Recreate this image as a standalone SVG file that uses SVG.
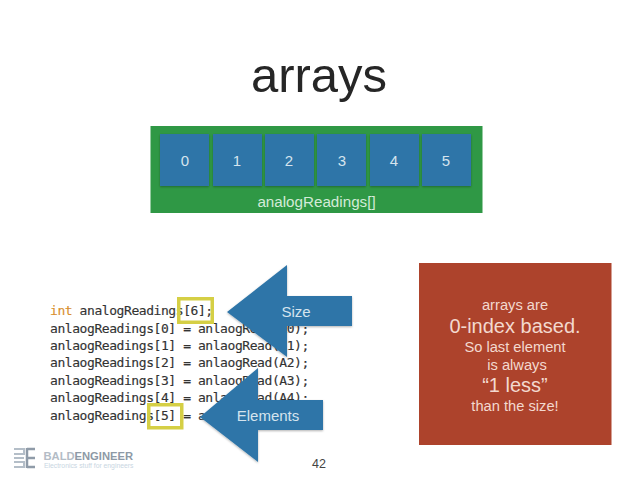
<svg xmlns="http://www.w3.org/2000/svg" width="638" height="479" viewBox="0 0 638 479">
<defs>
<filter id="sh" x="-10%" y="-10%" width="120%" height="125%"><feDropShadow dx="0" dy="1" stdDeviation="0.8" flood-color="#000" flood-opacity="0.3"/></filter>
</defs>
<style>
text{font-family:"Liberation Sans",Arial,sans-serif}
.t{fill:#d5e4ee;font-size:15px;text-anchor:middle}
.cell{fill:#2e75a8;filter:url(#sh)}
.code{font-family:"DejaVu Sans Mono","Liberation Mono",monospace;font-size:13px;letter-spacing:-0.43px;fill:#333;stroke:#333;stroke-width:0.15px}
.hl{fill:none;stroke:#d5cf45;stroke-width:3.5}
.arrow{fill:#2e75a8;filter:url(#sh)}
.note{fill:#f3d9cf;text-anchor:middle}
</style>
<rect width="638" height="479" fill="#fff"/>
<text id="title" x="319" y="92" font-size="49" fill="#262626" text-anchor="middle">arrays</text>
<g id="array">
<rect x="150.500" y="126" width="332" height="87" fill="#2f9845"/>
<text x="316.500" y="207" text-anchor="middle" font-size="15.200" fill="#d3ebd8">analogReadings[]</text>
</g>
<g id="cell0"><rect class="cell" x="160" y="134" width="49" height="52"/><text class="t" x="185" y="166">0</text></g>
<g id="cell1"><rect class="cell" x="213" y="134" width="49" height="52"/><text class="t" x="237" y="166">1</text></g>
<g id="cell2"><rect class="cell" x="265" y="134" width="49" height="52"/><text class="t" x="289" y="166">2</text></g>
<g id="cell3"><rect class="cell" x="317" y="134" width="49" height="52"/><text class="t" x="342" y="166">3</text></g>
<g id="cell4"><rect class="cell" x="370" y="134" width="49" height="52"/><text class="t" x="394" y="166">4</text></g>
<g id="cell5"><rect class="cell" x="422" y="134" width="49" height="52"/><text class="t" x="446" y="166">5</text></g>
<g id="code">
<text class="code" x="50" y="315"><tspan fill="#d9902f" stroke="#d9902f">int</tspan> analogReadings[6];</text>
<text class="code" x="50" y="332.500">anlaogReadings[0] = anlaogRead(A0);</text>
<text class="code" x="50" y="350">anlaogReadings[1] = anlaogRead(A1);</text>
<text class="code" x="50" y="367">anlaogReadings[2] = anlaogRead(A2);</text>
<text class="code" x="50" y="384.500">anlaogReadings[3] = anlaogRead(A3);</text>
<text class="code" x="50" y="402">anlaogReadings[4] = anlaogRead(A4);</text>
<text class="code" x="50" y="419.500">anlaogReadings[5] = a</text>
<rect class="hl" x="178.750" y="298.750" width="33.500" height="23.500"/>
<rect class="hl" x="148.750" y="404.750" width="33" height="23"/>
</g>
<g id="size-arrow">
<path class="arrow" d="M227 312 L287 265 V296 H352 V326 H287 V357 Z"/>
<text class="t" x="296" y="317">Size</text>
</g>
<g id="elements-arrow">
<path class="arrow" d="M200 417 L258 368 V400 H323 V430 H258 V462 Z"/>
<text class="t" x="268" y="421" font-size="14.500">Elements</text>
</g>
<g id="note">
<rect x="419" y="263" width="192.500" height="182" fill="#ad432c"/>
<text class="note" x="515" y="310" font-size="14.700">arrays are</text>
<text class="note" x="515" y="333" font-size="20">0-index based.</text>
<text class="note" x="515" y="352" font-size="14.700">So last element</text>
<text class="note" x="517" y="370" font-size="14.700">is always</text>
<text class="note" x="515" y="392" font-size="20">“1 less”</text>
<text class="note" x="515" y="411" font-size="14.700">than the size!</text>
</g>
<text id="page" x="319" y="468" font-size="12.500" fill="#444" text-anchor="middle">42</text>
<g id="logo">
<path d="M14 449H24V454H14M14 458H24M14 462H24V467H14" stroke="#b4bec8" stroke-width="2" fill="none"/>
<path d="M27 448V468M27 449H35M27 458H35M27 467H35" stroke="#8f9ba8" stroke-width="2.500" fill="none"/>
<text x="43.500" y="459.500" font-size="11.200" font-weight="bold" fill="#b3bcc6">BALD<tspan fill="#8d99a6">ENGINEER</tspan></text>
<text x="44" y="467.500" font-size="6.800" fill="#c9d6e2">Electronics stuff for engineers</text>
</g>
</svg>
